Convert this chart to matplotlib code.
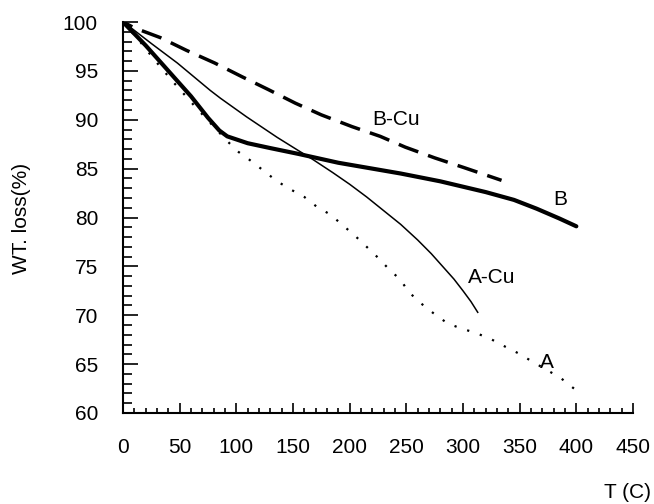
import matplotlib
matplotlib.use("Agg")
import matplotlib.pyplot as plt
from matplotlib.ticker import MultipleLocator

plt.rcParams['font.family'] = ['Liberation Sans', 'DejaVu Sans']

# --- data ---
b_x = [0, 20, 40, 60, 75, 85, 92, 110, 130, 155, 190, 220, 245, 280, 320, 345, 365, 385, 400]
b_y = [100, 97.6, 95.0, 92.4, 90.2, 88.9, 88.3, 87.6, 87.1, 86.5, 85.6, 85.0, 84.5, 83.7,
       82.6, 81.8, 80.9, 79.9, 79.1]

bcu_x = [0, 10, 33, 56, 81, 105, 128, 152, 175, 202, 227, 249, 275, 301, 334]
bcu_y = [100, 99.4, 98.4, 97.1, 95.8, 94.4, 93.1, 91.7, 90.5, 89.3, 88.3, 87.2, 86.1, 85.1, 83.8]

acu_x = [0, 6, 25, 48, 77, 86, 109, 136, 154, 168, 185, 200, 215, 230, 245, 260, 272, 282, 292,
         300, 307, 313]
acu_y = [100, 99.5, 97.8, 95.8, 93.0, 92.2, 90.3, 88.2, 86.9, 85.9, 84.6, 83.4, 82.1, 80.7,
         79.3, 77.7, 76.3, 75.0, 73.7, 72.5, 71.4, 70.3]

a_x = [0, 15, 28, 44, 64, 80, 93, 102, 114, 125, 136, 149, 160, 171, 183, 194, 205, 215, 224,
       234, 245, 252, 262, 274, 286, 297, 311, 324, 337, 349, 362, 386, 399]
a_y = [100, 98.0, 96.1, 93.9, 91.3, 89.3, 87.7, 86.7, 85.7, 84.7, 83.7, 82.8, 82.1, 81.1, 80.3,
       79.2, 78.1, 77.0, 76.0, 74.8, 73.6, 72.4, 71.3, 70.2, 69.2, 68.7, 68.2, 67.6, 66.8, 66.1,
       65.2, 63.6, 62.4]

labels = ['B-Cu', 'B', 'A-Cu', 'A']
label_x = [241, 386, 325, 374]
label_y = [90.0, 81.8, 73.9, 65.2]

fig = plt.figure(figsize=(6.54, 5.04), dpi=100)
ax = fig.add_axes([123 / 654, 1 - 413 / 504, 510 / 654, 391 / 504])

ax.plot(bcu_x, bcu_y, color='black', lw=2.5, linestyle=(3, (6, 3)), dash_capstyle='butt')
ax.plot(b_x, b_y, color='black', lw=3.0, solid_capstyle='round')
ax.plot(acu_x, acu_y, color='black', lw=1.1)
ax.plot(a_x, a_y, color='black', lw=1.6, linestyle=(0, (1, 5)))

for t, x, y in zip(labels, label_x, label_y):
    ax.text(x, y, t, fontsize=15, ha='center', va='center')

ax.set_xlim(0, 450)
ax.set_ylim(60, 100)
ax.xaxis.set_major_locator(MultipleLocator(50))
ax.xaxis.set_minor_locator(MultipleLocator(10))
ax.yaxis.set_major_locator(MultipleLocator(5))
ax.yaxis.set_minor_locator(MultipleLocator(1))

for s in ['top', 'right']:
    ax.spines[s].set_visible(False)
for s in ['left', 'bottom']:
    ax.spines[s].set_linewidth(1.5)

ax.tick_params(axis='x', which='major', direction='in', length=7.2, width=1.2, pad=18, labelsize=15)
ax.tick_params(axis='x', which='minor', direction='in', length=3.6, width=1.2)
ax.tick_params(axis='y', which='major', direction='in', length=10.8, width=1.2, pad=18, labelsize=15)
ax.tick_params(axis='y', which='minor', direction='in', length=6.5, width=1.2)

fig.text(22 / 654, 1 - 218 / 504, 'WT. loss(%)', rotation=90, fontsize=15, ha='center', va='center')
fig.text(627 / 654, 1 - 493 / 504, 'T (C)', fontsize=15, ha='center', va='center')

fig.savefig('out.png', dpi=100)
